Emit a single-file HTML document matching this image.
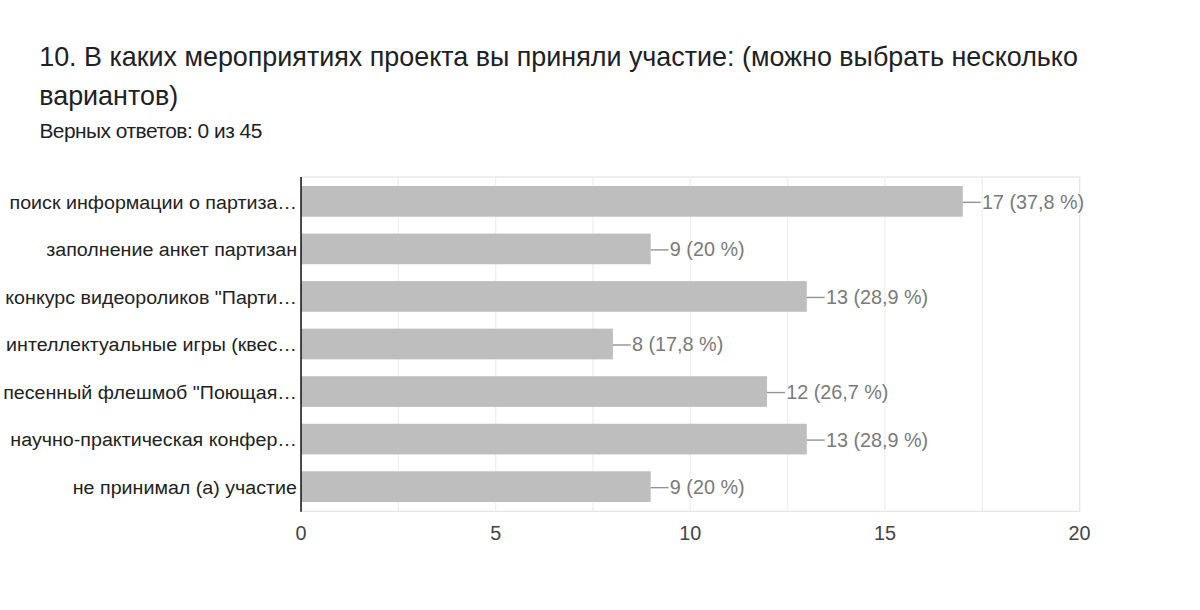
<!DOCTYPE html>
<html><head><meta charset="utf-8"><style>
html,body{margin:0;padding:0;background:#fff;width:1200px;height:610px;overflow:hidden}
svg{position:absolute;left:0;top:0}
text{font-family:"Liberation Sans",Arial,sans-serif;font-size:20.5px}
.h{font-size:26.9px;fill:#202124}
.s{font-size:20.9px;fill:#202124;letter-spacing:-0.5px}
.v{fill:#7a7a7a;stroke:#fff;stroke-width:2px;paint-order:stroke;stroke-linejoin:round}
.l{fill:#222;font-size:19.2px}
.t{fill:#444}
</style></head><body>
<svg width="1200" height="610" viewBox="0 0 1200 610">
<text x="39.2" y="65.6" class="h">10. В каких мероприятиях проекта вы приняли участие: (можно выбрать несколько</text>
<text x="39.2" y="104.7" class="h">вариантов)</text>
<text x="39.4" y="137.8" class="s">Верных ответов: 0 из 45</text>
<rect x="397.62" y="177.0" width="1.4" height="334.30" fill="#f0f0f0"/>
<rect x="494.95" y="177.0" width="1.4" height="334.30" fill="#f0f0f0"/>
<rect x="592.27" y="177.0" width="1.4" height="334.30" fill="#f0f0f0"/>
<rect x="689.60" y="177.0" width="1.4" height="334.30" fill="#f0f0f0"/>
<rect x="786.92" y="177.0" width="1.4" height="334.30" fill="#f0f0f0"/>
<rect x="884.25" y="177.0" width="1.4" height="334.30" fill="#f0f0f0"/>
<rect x="981.57" y="177.0" width="1.4" height="334.30" fill="#f0f0f0"/>
<rect x="301.0" y="176.3" width="779.30" height="1.4" fill="#e8e8e8"/>
<rect x="301.0" y="510.60" width="779.30" height="1.4" fill="#e8e8e8"/>
<rect x="1078.90" y="176.3" width="1.4" height="335.70" fill="#e8e8e8"/>
<rect x="301.0" y="186.00" width="661.80" height="30.7" fill="#bebebe"/>
<rect x="962.80" y="201.65" width="17.9" height="1.4" fill="#939393"/>
<text transform="translate(981.90 208.75) scale(0.9659 1)" class="v" text-anchor="start">17 (37,8 %)</text>
<text transform="translate(297.00 208.60) scale(1.0245 1)" class="l" text-anchor="end">поиск информации о партиза…</text>
<rect x="301.0" y="233.55" width="349.70" height="30.7" fill="#bebebe"/>
<rect x="650.70" y="249.20" width="17.9" height="1.4" fill="#939393"/>
<text transform="translate(669.80 256.30) scale(0.9659 1)" class="v" text-anchor="start">9 (20 %)</text>
<text transform="translate(297.00 256.15) scale(1.0245 1)" class="l" text-anchor="end">заполнение анкет партизан</text>
<rect x="301.0" y="281.10" width="505.80" height="30.7" fill="#bebebe"/>
<rect x="806.80" y="296.75" width="17.9" height="1.4" fill="#939393"/>
<text transform="translate(825.90 303.85) scale(0.9659 1)" class="v" text-anchor="start">13 (28,9 %)</text>
<text transform="translate(297.00 303.70) scale(1.0245 1)" class="l" text-anchor="end">конкурс видеороликов &quot;Парти…</text>
<rect x="301.0" y="328.65" width="311.90" height="30.7" fill="#bebebe"/>
<rect x="612.90" y="344.30" width="17.9" height="1.4" fill="#939393"/>
<text transform="translate(632.00 351.40) scale(0.9659 1)" class="v" text-anchor="start">8 (17,8 %)</text>
<text transform="translate(297.00 351.25) scale(1.0245 1)" class="l" text-anchor="end">интеллектуальные игры (квес…</text>
<rect x="301.0" y="376.20" width="466.05" height="30.7" fill="#bebebe"/>
<rect x="767.05" y="391.85" width="17.9" height="1.4" fill="#939393"/>
<text transform="translate(786.15 398.95) scale(0.9659 1)" class="v" text-anchor="start">12 (26,7 %)</text>
<text transform="translate(297.00 398.80) scale(1.0245 1)" class="l" text-anchor="end">песенный флешмоб &quot;Поющая…</text>
<rect x="301.0" y="423.75" width="505.80" height="30.7" fill="#bebebe"/>
<rect x="806.80" y="439.40" width="17.9" height="1.4" fill="#939393"/>
<text transform="translate(825.90 446.50) scale(0.9659 1)" class="v" text-anchor="start">13 (28,9 %)</text>
<text transform="translate(297.00 446.35) scale(1.0245 1)" class="l" text-anchor="end">научно-практическая конфер…</text>
<rect x="301.0" y="471.30" width="349.70" height="30.7" fill="#bebebe"/>
<rect x="650.70" y="486.95" width="17.9" height="1.4" fill="#939393"/>
<text transform="translate(669.80 494.05) scale(0.9659 1)" class="v" text-anchor="start">9 (20 %)</text>
<text transform="translate(297.00 493.90) scale(1.0245 1)" class="l" text-anchor="end">не принимал (а) участие</text>
<rect x="300.2" y="177.0" width="1.7" height="334.80" fill="#2a2a2a"/>
<text transform="translate(301.00 540.00) scale(0.9659 1)" class="t" text-anchor="middle">0</text>
<text transform="translate(495.65 540.00) scale(0.9659 1)" class="t" text-anchor="middle">5</text>
<text transform="translate(690.30 540.00) scale(0.9659 1)" class="t" text-anchor="middle">10</text>
<text transform="translate(884.95 540.00) scale(0.9659 1)" class="t" text-anchor="middle">15</text>
<text transform="translate(1079.60 540.00) scale(0.9659 1)" class="t" text-anchor="middle">20</text>
</svg>
</body></html>
